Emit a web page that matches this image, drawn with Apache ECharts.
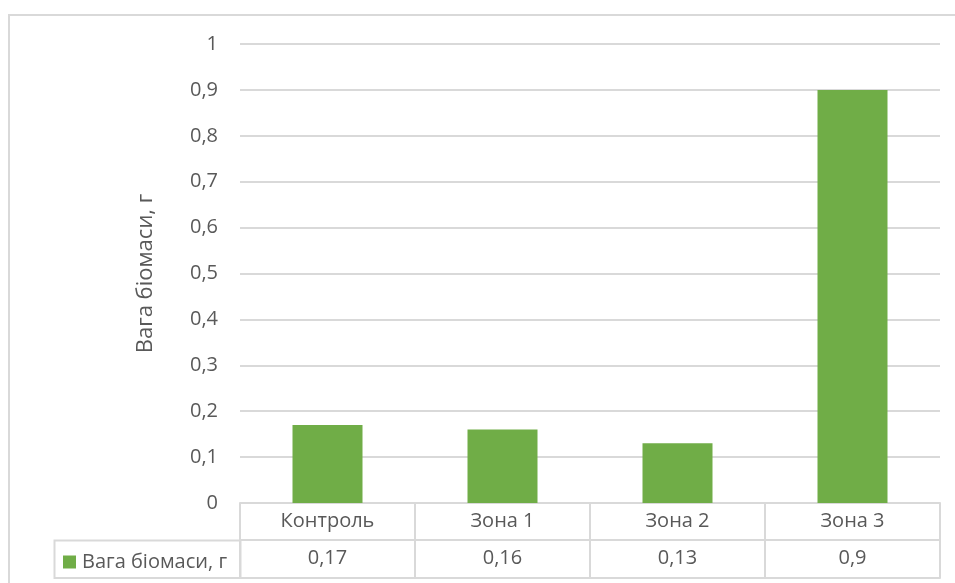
<!DOCTYPE html>
<html>
<head>
<meta charset="utf-8">
<script src="https://cdn.jsdelivr.net/npm/echarts@6/dist/echarts.min.js"></script>
<style>
html,body{margin:0;padding:0;background:#fff;}
#chart{width:955px;height:583px;}
</style>
</head>
<body>
<div id="chart"></div>
<script>
const categories = ['Контроль', 'Зона 1', 'Зона 2', 'Зона 3'];
const seriesName = 'Вага біомаси, г';
const values = [0.17, 0.16, 0.13, 0.9];
const yTicks = { min: 0, max: 1, interval: 0.1 };

const fmt = v => String(v).replace('.', ',');
const FONT = 'Open Sans';
const TXT = '#595959';
const LINE = '#d9d9d9';
const FS = 20;

const chart = echarts.init(document.getElementById('chart'));
chart.setOption({
  animation: false,
  textStyle: { fontFamily: FONT },
  grid: { left: 240, right: 15, top: 44, bottom: 80, containLabel: false },
  legend: {
    show: true,
    left: 58, top: 547,
    itemWidth: 13, itemHeight: 13,
    icon: 'rect',
    data: [seriesName],
    textStyle: { fontFamily: FONT, fontSize: FS, color: TXT, padding: [0, 0, 0, 1] }
  },
  graphic: [
    { type: 'rect', shape: { x: 9, y: 15, width: 1000, height: 600 }, style: { fill: 'none', stroke: LINE, lineWidth: 2 }, silent: true },
    { type: 'rect', shape: { x: 54.5, y: 540.5, width: 186, height: 37.5 }, style: { fill: 'none', stroke: LINE, lineWidth: 2 }, silent: true }
  ],
  xAxis: [
    {
      type: 'category', data: categories, position: 'bottom',
      axisLine: { show: true, lineStyle: { color: LINE, width: 2 } },
      axisTick: { show: true, length: 75, lineStyle: { color: LINE, width: 2 } },
      axisLabel: { margin: 8, fontSize: FS, color: TXT, fontFamily: FONT },
      splitLine: { show: false }
    },
    {
      type: 'category', data: values.map(fmt), position: 'bottom', offset: 37,
      axisLine: { show: true, lineStyle: { color: LINE, width: 2 } },
      axisTick: { show: false },
      axisLabel: { margin: 8, fontSize: FS, color: TXT, fontFamily: FONT }
    },
    {
      type: 'category', data: categories, position: 'bottom', offset: 75,
      axisLine: { show: true, lineStyle: { color: LINE, width: 2 } },
      axisTick: { show: false },
      axisLabel: { show: false }
    }
  ],
  yAxis: {
    type: 'value', min: yTicks.min, max: yTicks.max, interval: yTicks.interval,
    name: seriesName, nameLocation: 'middle', nameGap: 83,
    nameTextStyle: { fontSize: 22, color: TXT, fontFamily: FONT },
    axisLine: { show: false }, axisTick: { show: false },
    axisLabel: { margin: 22, fontSize: FS, color: TXT, fontFamily: FONT, formatter: v => fmt(Math.round(v * 10) / 10) },
    splitLine: { show: true, lineStyle: { color: LINE, width: 2 } }
  },
  series: [{
    name: seriesName, type: 'bar', xAxisIndex: 0,
    data: values, barWidth: '40%',
    itemStyle: { color: '#70ad47' }
  }]
});
</script>
</body>
</html>
